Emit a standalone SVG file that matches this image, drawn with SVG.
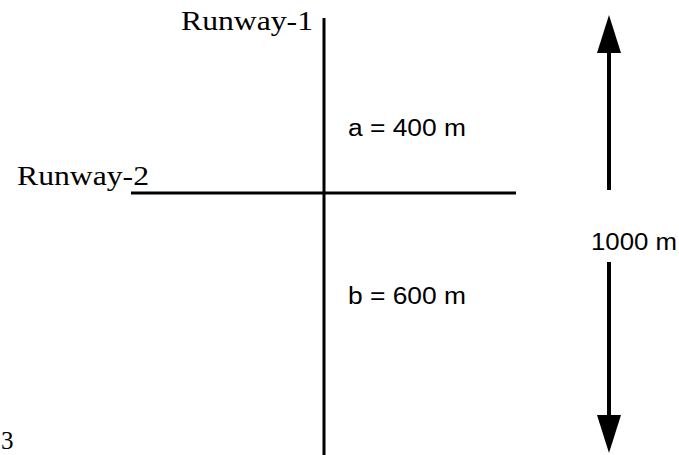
<svg xmlns="http://www.w3.org/2000/svg" width="679" height="455" viewBox="0 0 679 455">
<style>
.serif{font-family:"Liberation Serif","DejaVu Serif",serif;font-size:27px;fill:#000}
.sans{font-family:"Liberation Sans",Arial,sans-serif;font-size:23px;fill:#000}
.rw{stroke:#000;stroke-width:3;fill:none}
.shaft{stroke:#000;stroke-width:4;fill:none}
</style>
<rect width="679" height="455" fill="#fff"/>
<g id="runway1">
<line class="rw" x1="324" y1="18" x2="324" y2="455"/>
<text class="serif" x="181" y="30" textLength="132" lengthAdjust="spacingAndGlyphs">Runway-1</text>
</g>
<g id="runway2">
<line class="rw" x1="131" y1="193" x2="516" y2="193"/>
<text class="serif" x="17" y="185" textLength="132" lengthAdjust="spacingAndGlyphs">Runway-2</text>
</g>
<g id="labels">
<text class="sans" x="348" y="136" textLength="118" lengthAdjust="spacingAndGlyphs">a = 400 m</text>
<text class="sans" x="348" y="304" textLength="118" lengthAdjust="spacingAndGlyphs">b = 600 m</text>
<text class="sans" x="591" y="250" textLength="86" lengthAdjust="spacingAndGlyphs">1000 m</text>
<text class="serif" x="1" y="449" style="font-size:25px">3</text>
</g>
<g id="connectors">
<line class="shaft" x1="609" y1="52" x2="609" y2="190"/>
<polygon points="609,15 597,53 621,53" fill="#000"/>
<line class="shaft" x1="609" y1="262" x2="609" y2="416"/>
<polygon points="609,453 597,415 621,415" fill="#000"/>
</g>
</svg>
